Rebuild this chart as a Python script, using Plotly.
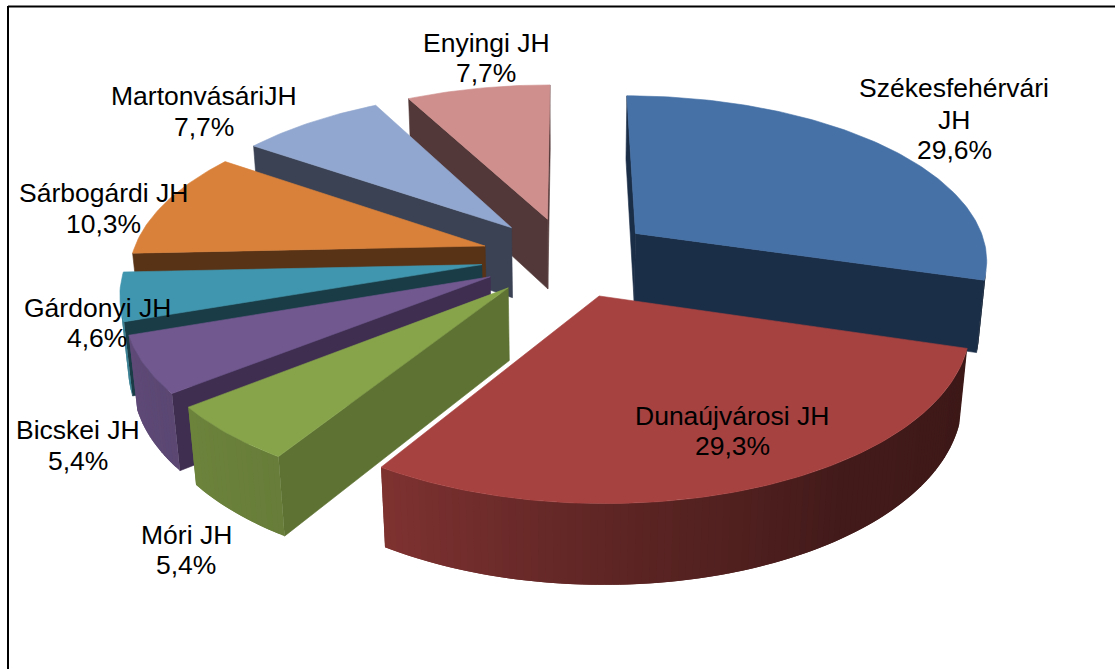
import math
import plotly.graph_objects as go

# ---- data ----
NAMES = ["Székesfehérvári JH", "Dunaújvárosi JH", "Móri JH", "Bicskei JH",
         "Gárdonyi JH", "Sárbogárdi JH", "MartonvásáriJH", "Enyingi JH"]
VALUES = [29.6, 29.3, 5.4, 5.4, 4.6, 10.3, 7.7, 7.7]

# ---- style ----
TOP = ["#4571A6", "#A64240", "#87A44B", "#71588E", "#4096AE", "#D9813A", "#92A7CF", "#CF8F8D"]
RADIAL = ["#1B2E47", "#431C19", "#5E7233", "#3F2E50", "#193C47", "#593316", "#3A4254", "#523838"]
ORDER = [7, 0, 6, 5, 4, 3, 2, 1]
LABEL_LINES = {0: ["Székesfehérvári", "JH"]}
LABEL_POS = [(954, [88, 120, 150]), (732, [416, 446]), (186, [535, 565]), (78, [430, 461]),
             (97, [308, 338]), (103, [193, 224]), (204, [96, 127]), (486, [43, 73])]

# ---- projection ----
CX, CY = 567.5, 257
FOCAL, DIST = 2100, 6.0
XSCALE = 1.01
ELEV = math.radians(28.0)
PULL, HEIGHT = 0.245, 0.235
CAM_Y = -DIST * math.cos(ELEV)


def proj(x, y, z):
    depth = DIST + y * math.cos(ELEV) - z * math.sin(ELEV)
    return (CX + XSCALE * FOCAL * x / depth,
            CY - FOCAL * (y * math.sin(ELEV) + z * math.cos(ELEV)) / depth,
            depth)


def faces_camera(nx, ny, x, y):
    return nx * (0 - x) + ny * (CAM_Y - y) > 0


def hex2rgb(c):
    return tuple(int(c[i:i + 2], 16) for i in (1, 3, 5))


def shade(c, s):
    return "rgb(%d,%d,%d)" % tuple(round(v * s) for v in hex2rgb(c))


def outer_shade(deg):
    pts = [(0, .3), (107, .36), (145, .4), (180, .57), (212, .76), (250, .84), (300, .7), (360, .5)]
    for (a, sa), (b, sb) in zip(pts, pts[1:]):
        if a <= deg <= b:
            return sa + (sb - sa) * (deg - a) / (b - a)
    return .5


fig = go.Figure()


def poly(pts, color, width=0.6):
    xs = [p[0] for p in pts] + [pts[0][0]]
    ys = [p[1] for p in pts] + [pts[0][1]]
    fig.add_trace(go.Scatter(x=xs, y=ys, mode="lines", fill="toself", fillcolor=color,
                             line=dict(color=color, width=width), hoverinfo="skip", showlegend=False))


total = sum(VALUES)
starts = []
acc = 0.0
for v in VALUES:
    starts.append(acc)
    acc += v / total * 360

for i in ORDER:
    a0 = starts[i]
    a1 = a0 + VALUES[i] / total * 360
    mid = math.radians((a0 + a1) / 2)
    ox, oy = PULL * math.sin(mid), PULL * math.cos(mid)
    steps = max(4, int((a1 - a0) / 1.0))
    angs = [a0 + (a1 - a0) * k / steps for k in range(steps + 1)]
    rad = [math.radians(a) for a in angs]
    rim = [(ox + math.sin(r), oy + math.cos(r)) for r in rad]

    # radial faces, only those turned to the camera
    r0, r1 = rad[0], rad[-1]
    for (nx, ny), (x1, y1) in (((-math.cos(r0), math.sin(r0)), rim[0]),
                               ((math.cos(r1), -math.sin(r1)), rim[-1])):
        if faces_camera(nx, ny, ox, oy):
            poly([proj(ox, oy, 0), proj(x1, y1, 0), proj(x1, y1, -HEIGHT), proj(ox, oy, -HEIGHT)],
                 RADIAL[i])

    # outer wall, only the part turned to the camera; each band overlaps the next
    vis = [k for k in range(steps)
           if faces_camera(math.sin((rad[k] + rad[k + 1]) / 2), math.cos((rad[k] + rad[k + 1]) / 2),
                           *rim[k])]
    for k in vis:
        k2 = k + 2 if (k + 1) in vis else k + 1
        (x1, y1), (x2, y2) = rim[k], rim[k2]
        bend = rim[k + 1]
        quad = [proj(x1, y1, 0), proj(*bend, 0), proj(x2, y2, 0),
                proj(x2, y2, -HEIGHT), proj(*bend, -HEIGHT), proj(x1, y1, -HEIGHT)]
        poly(quad, shade(TOP[i], outer_shade((angs[k] + angs[k + 1]) / 2)), width=0)

    poly([proj(ox, oy, 0)] + [proj(x, y, 0) for x, y in rim], TOP[i])

annotations = []
for i, name in enumerate(NAMES):
    lines = LABEL_LINES.get(i, [name]) + [f"{VALUES[i]:.1f}%".replace(".", ",")]
    cx, ys = LABEL_POS[i]
    for text, y in zip(lines, ys):
        annotations.append(dict(x=cx, y=y, xref="x", yref="y", text=text, showarrow=False,
                                xanchor="center", yanchor="middle",
                                font=dict(family="Liberation Sans", size=26.5, color="#000000")))

fig.update_layout(
    width=1115, height=669, margin=dict(l=0, r=0, t=0, b=0),
    paper_bgcolor="white", plot_bgcolor="white", showlegend=False,
    xaxis=dict(range=[0, 1115], visible=False, fixedrange=True),
    yaxis=dict(range=[669, 0], visible=False, fixedrange=True),
    annotations=annotations,
    shapes=[dict(type="line", xref="x", yref="y", x0=8, y0=6.5, x1=1115, y1=6.5,
                 line=dict(color="#000000", width=2), layer="below"),
            dict(type="line", xref="x", yref="y", x0=8, y0=6, x1=8, y1=669,
                 line=dict(color="#000000", width=2), layer="below")],
)
fig.write_html("out.html", config=dict(displayModeBar=False),
               post_script="document.body.style.margin='0';")
